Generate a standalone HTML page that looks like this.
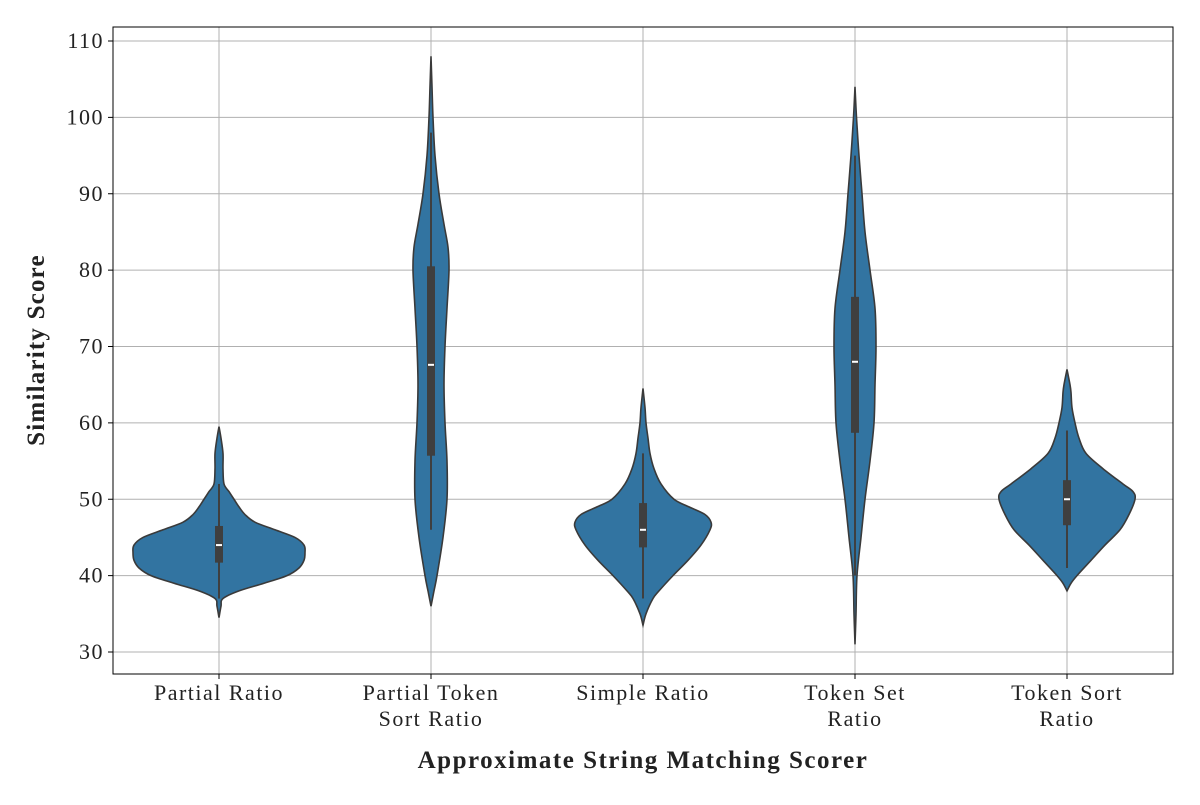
<!DOCTYPE html>
<html><head><meta charset="utf-8"><style>
body{margin:0;background:#fff;}
svg text{font-family:"Liberation Serif","DejaVu Serif",serif;fill:#222;}
</style></head><body>
<svg id="chart" width="1200" height="800" viewBox="0 0 1200 800" xmlns="http://www.w3.org/2000/svg">
<g id="grid"></g><g id="violins"></g><g id="axes"></g>
</svg>
<script>
const categories = ["Partial Ratio","Partial Token|Sort Ratio","Simple Ratio","Token Set|Ratio","Token Sort|Ratio"];
const yTicks = [30,40,50,60,70,80,90,100,110];
// density profiles: [value, half-width px]
const densPartialRatio = [[34.5,0],[36,2],[37,4],[38,20],[39,45],[40,68],[41,80],[42,85],[43,86],[44,85],[45,76],[46,56],[47,36],[48,26],[49,20],[50,15],[51,10],[52,5],[54,4],[56,4],[58,2],[59.5,0]];
const densPartialToken = [[36,0],[38,3],[40,6],[45,12],[50,16],[55,16],[60,14],[65,13],[70,14],[75,16],[80,18],[83,17],[86,13],[90,8],[95,4],[100,2],[104,1],[108,0]];
const densSimple = [[33.5,0],[35,3],[37,10],[38,16],[40,30],[42,45],[44,58],[46,67],[47,68],[48,62],[49,46],[50,31],[52,18],[54,11],[56,7],[58,5],[60,3],[62,2],[64.5,0]];
const densTokenSet = [[31,0],[35,1],[40,2],[45,6],[50,10],[55,15],[60,19],[65,20],[70,21],[75,20],[80,15],[85,10],[90,7],[95,4],[100,1.5],[104,0]];
const densTokenSort = [[38,0],[39,4],[40,10],[42,24],[44,38],[46,53],[48,62],[50,68],[51,66],[52,56],[54,36],[56,19],[58,12],[60,8],[62,5],[64,4],[65,3],[67,0]];
const densities = [densPartialRatio,densPartialToken,densSimple,densTokenSet,densTokenSort];
const q1 = [41.7,55.7,43.7,58.7,46.6];
const medians = [44,67.6,46,68,50];
const q3 = [46.5,80.5,49.5,76.5,52.5];
const whiskLo = [37,46,37,40,41];
const whiskHi = [52,98,56,95,59];

const NS="http://www.w3.org/2000/svg";
const L=113,R=1173,T=27,B=674;
function y(v){return 652-(v-30)*(652-41)/80;}
function x(i){return 219+i*212;}
function mk(tag,attrs,parent){const e=document.createElementNS(NS,tag);for(const k in attrs)e.setAttribute(k,attrs[k]);parent.appendChild(e);return e;}
const grid=document.getElementById('grid'),vg=document.getElementById('violins'),ax=document.getElementById('axes');

yTicks.forEach(t=>{
  const g=mk('line',{x1:L,x2:R,y1:y(t),y2:y(t),stroke:'#b0b0b0','stroke-width':1},grid);
  
  
  mk('line',{x1:L-5,x2:L,y1:y(t),y2:y(t),stroke:'#000'},ax);
  const tx=mk('text',{x:L-9,y:y(t)+7,'text-anchor':'end','font-size':22,'letter-spacing':1.5},ax);
  tx.textContent=t;
  
  
});
categories.forEach((c,i)=>{
  const g=mk('line',{x1:x(i),x2:x(i),y1:T,y2:B,stroke:'#b0b0b0','stroke-width':1},grid);
  
  
  mk('line',{x1:x(i),x2:x(i),y1:B,y2:B+5,stroke:'#000'},ax);
  c.split('|').forEach((ln,k)=>{
    const tx=mk('text',{x:x(i),y:700+k*26,'text-anchor':'middle','font-size':22,'letter-spacing':1.5},ax);
    tx.textContent=ln;
    
    
  });
});
function smoothPath(pts){
  let d='M'+pts[0][0]+','+pts[0][1];
  for(let i=0;i<pts.length-1;i++){
    const p0=pts[Math.max(i-1,0)],p1=pts[i],p2=pts[i+1],p3=pts[Math.min(i+2,pts.length-1)];
    const c1=[p1[0]+(p2[0]-p0[0])/6,p1[1]+(p2[1]-p0[1])/6],c2=[p2[0]-(p3[0]-p1[0])/6,p2[1]-(p3[1]-p1[1])/6];
    d+=' C'+c1+' '+c2+' '+p2;
  }
  return d;
}
densities.forEach((dn,i)=>{
  const cx=x(i);
  const right=dn.map(p=>[cx+p[1],y(p[0])]);
  const left=dn.slice().reverse().map(p=>[cx-p[1],y(p[0])]);
  const d=smoothPath(right)+' L'+smoothPath(left).slice(1)+' Z';
  const p=mk('path',{d:d,fill:'#3274a1',stroke:'#3a3a3a','stroke-width':1.6},vg);
  
  
  const w=mk('line',{x1:cx,x2:cx,y1:y(whiskLo[i]),y2:y(whiskHi[i]),stroke:'#3f3f3f','stroke-width':2},vg);
  
  
  const b=mk('rect',{x:cx-4,y:y(q3[i]),width:8,height:y(q1[i])-y(q3[i]),fill:'#3f3f3f'},vg);
  
  
  const m=mk('line',{x1:cx-3,x2:cx+3,y1:y(medians[i]),y2:y(medians[i]),stroke:'#fff','stroke-width':2},vg);
  
  
});
const fr=mk('rect',{x:L,y:T,width:R-L,height:B-T,fill:'none',stroke:'#000','stroke-width':1},ax);


const xt=mk('text',{x:643,y:768,'text-anchor':'middle','font-size':25,'font-weight':'bold','letter-spacing':1.5},ax);
xt.textContent='Approximate String Matching Scorer';


const yt=mk('text',{x:0,y:0,'text-anchor':'middle','font-size':25,'font-weight':'bold','letter-spacing':1.2,transform:'translate(44,350) rotate(-90)'},ax);
yt.textContent='Similarity Score';


</script>
</body></html>
